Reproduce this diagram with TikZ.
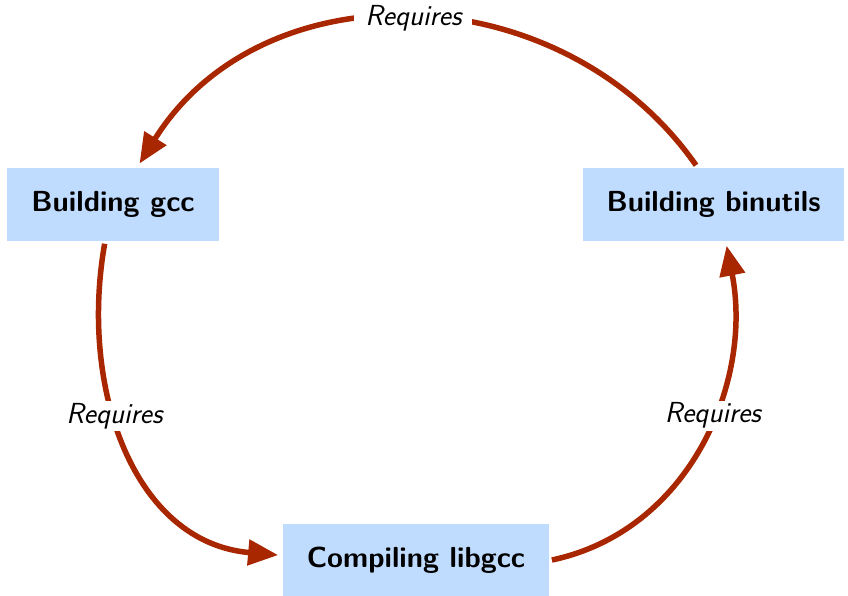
\documentclass[tikz,border=0pt]{standalone}
\usetikzlibrary{arrows.meta}

\definecolor{stageblue}{RGB}{191,219,254}
\definecolor{reqred}{RGB}{168,38,0}

\begin{document}
\begin{tikzpicture}[x=1pt, y=-1pt, line width=5.5pt,
  stage/.style={fill=stageblue, inner xsep=24pt, inner ysep=0pt, minimum height=73pt,
    font=\fontsize{29}{35}\selectfont\sffamily\bfseries},
  req/.style={draw=reqred, shorten >=2pt, -{Triangle[length=30pt,width=25pt]}},
  reqlabel/.style={fill=white, inner xsep=11pt, inner ysep=2pt,
    font=\fontsize{29}{35}\selectfont\sffamily\itshape}]

  %% ════ 方框 ════
  \node[stage] (gcc)      at (113.0,204.5) {Building gcc};
  \node[stage] (binutils) at (713.5,204.5) {Building binutils};
  \node[stage] (libgcc)   at (416.0,560.0) {Compiling libgcc};

  %% ════ 依赖箭头 ════
  \draw[req] (binutils.114) to[out=125, in=58, looseness=1.08]
    node[reqlabel] (reqtop) {Requires} (gcc.57);
  \draw[req] (gcc.258) to[out=260, in=175, looseness=1.05]
    node[reqlabel, pos=0.41] (reqleft) {Requires} (libgcc.178);
  \draw[req] (libgcc.east) to[out=12, in=281]
    node[reqlabel, pos=0.575] (reqright) {Requires} (binutils.288);

  % 钉死画布
  \pgfresetboundingbox
  \path[use as bounding box] (0,0) rectangle (848,595);
\end{tikzpicture}
\end{document}
